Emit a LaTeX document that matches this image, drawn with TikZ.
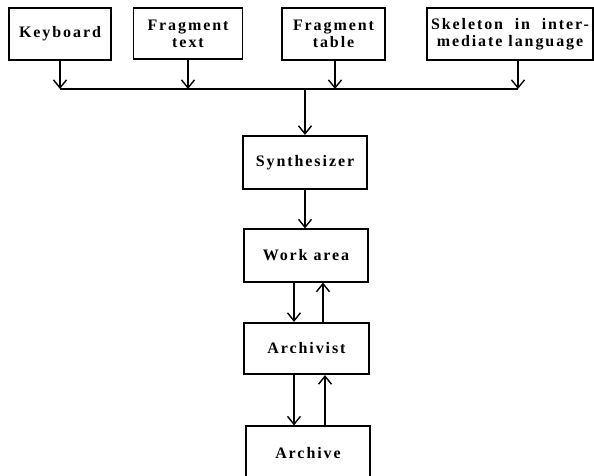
\documentclass[tikz,border=0pt]{standalone}
\usepackage{fontspec}
\setmainfont{Liberation Serif}[LetterSpace=12]
\usetikzlibrary{arrows.meta}
\tikzset{
>={Straight Barb[length=8pt,width=13pt,line width=1.4pt]}, % open v-shaped heads
box/.style={draw, line width=1.2pt, inner sep=1pt, align=center,
  font=\bfseries\fontsize{16}{17}\selectfont},
mainbox/.style={box, line width=2.2pt},
flow/.style={->, line width=1.4pt},
}

\begin{document}
\begin{tikzpicture}[x=1pt, y=-1pt]
        \useasboundingbox (0,0) rectangle (594,475);
        % input boxes
        \node[box, minimum width=102pt, minimum height=52pt] (kbd) at (60,34) {Keyboard};
        \node[box, minimum width=109pt, minimum height=51pt] (ftext) at (188,33.5) {Fragment\\text};
        \node[box, minimum width=103pt, minimum height=52pt] (ftable) at (333.5,34) {Fragment\\table};
        \node[box, minimum width=166pt, minimum height=52pt] (skel) at (510,34) {\makebox[158pt][s]{Skeleton in inter-}\\mediate language};
        % main chain
        \node[mainbox, minimum width=124pt, minimum height=53pt] (synth) at (305,162.5) {Synthesizer};
        \node[box, minimum width=124pt, minimum height=53pt] (work) at (306,255.5) {Work area};
        \node[mainbox, minimum width=125pt, minimum height=51pt] (arch) at (306.5,348.5) {Archivist};
        \node[box, minimum width=124pt, minimum height=54pt] (archive) at (308,453) {Archive};

        % bus line
        \coordinate (busL) at (60,89);
        \coordinate (busR) at (518,89);
        \draw[line width=1.4pt] (busL) -- (busR);
        \draw[flow] (kbd) -- (busL);
        \draw[flow] (ftext) -- (ftext |- busL);
        \draw[flow] ([xshift=1.5pt]ftable.south) -- ([xshift=1.5pt]ftable.south |- busL);
        \draw[flow] (skel.south -| busR) -- (busR);
        \draw[flow] (synth.north |- busL) -- (synth.north);

        \draw[flow] (synth.south) -- (synth.south |- work.north);
        \draw[flow] ([xshift=-12pt]work.south) -- ([xshift=-12pt]work.south |- arch.north);
        \draw[flow] ([xshift=17pt]work.south |- arch.north) -- ([xshift=17pt]work.south);
        \draw[flow] ([xshift=-12.5pt]arch.south) -- ([xshift=-12.5pt]arch.south |- archive.north);
        \draw[flow] ([xshift=18.5pt]arch.south |- archive.north) -- ([xshift=18.5pt]arch.south);
    \end{tikzpicture}
\end{document}
